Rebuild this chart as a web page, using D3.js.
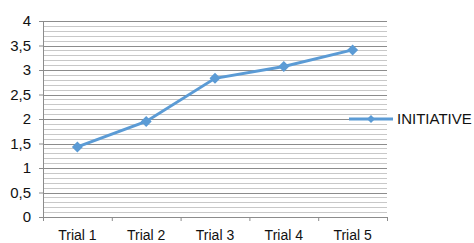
<!DOCTYPE html>
<html lang="en">
<head>
<meta charset="utf-8">
<script src="https://d3js.org/d3.v7.min.js"></script>
<style>
  body { margin: 0; background: #fff; }
  text { font-family: "Liberation Sans", Arial, sans-serif; fill: #111; }
</style>
</head>
<body>
<div id="container"></div>
<script>
var categories = ["Trial 1", "Trial 2", "Trial 3", "Trial 4", "Trial 5"];
var values = [1.43, 1.95, 2.83, 3.07, 3.41];
var seriesName = "INITIATIVE";
var majorTicks = [0, 0.5, 1, 1.5, 2, 2.5, 3, 3.5, 4];
var minorTicks = d3.range(0, 41).map(function(i) { return i / 10; });

var W = 474, H = 243;
var margin = {top: 21, left: 43, right: 87, bottom: 26};
var width = W - margin.left - margin.right,
    height = H - margin.top - margin.bottom;

var svg = d3.select("#container").append("svg")
    .attr("width", W).attr("height", H);
var g = svg.append("g")
    .attr("transform", "translate(" + margin.left + "," + margin.top + ")");

var x = d3.scaleBand().domain(categories).range([0, width]);
var y = d3.scaleLinear().domain([0, 4]).range([height, 0]);

// square diamond marker
function diamondPath(r) {
  return "M0," + (-r) + "L" + r + ",0L0," + r + "L" + (-r) + ",0Z";
}

// minor grid
g.selectAll(".minor").data(minorTicks.filter(function(d) { return Math.round(d * 10) % 5 != 0; }))
  .enter().append("line")
  .attr("x1", 0).attr("x2", width)
  .attr("y1", function(d) { return Math.round(y(d)) + 0.5; })
  .attr("y2", function(d) { return Math.round(y(d)) + 0.5; })
  .attr("stroke", "#c8c8c8").attr("stroke-width", 1);

// major grid
g.selectAll(".major").data(majorTicks.slice(1))
  .enter().append("line")
  .attr("x1", 0).attr("x2", width)
  .attr("y1", function(d) { return Math.round(y(d)) + 0.5; })
  .attr("y2", function(d) { return Math.round(y(d)) + 0.5; })
  .attr("stroke", "#8c8c8c").attr("stroke-width", 1);

// y axis
var yAxis = g.append("g")
  .call(d3.axisLeft(y).tickValues(majorTicks).tickSize(4).tickPadding(8)
    .tickFormat(function(d) { return String(d).replace(".", ","); }));
yAxis.select(".domain").attr("stroke", "#8c8c8c");
yAxis.selectAll(".tick line").attr("stroke", "#8c8c8c");
yAxis.selectAll("text").style("font-size", "15px").style("fill", "#111");

// x axis
var xLin = d3.scaleLinear().domain([0, categories.length]).range([0, width]);
var xAxis = g.append("g")
  .attr("transform", "translate(0," + height + ")")
  .call(d3.axisBottom(xLin).tickValues(d3.range(0, categories.length + 1)).tickSize(4).tickFormat(""));
xAxis.select(".domain").attr("stroke", "#8c8c8c");
xAxis.selectAll(".tick line").attr("stroke", "#8c8c8c");
g.selectAll(".xlab").data(categories).enter().append("text")
  .attr("x", function(d) { return x(d) + x.bandwidth() / 2; })
  .attr("y", height + 23)
  .attr("text-anchor", "middle")
  .style("font-size", "14px")
  .text(function(d) { return d; });

// series line
var color = "#5b9bd5";
var line = d3.line()
  .x(function(d, i) { return x(categories[i]) + x.bandwidth() / 2; })
  .y(function(d) { return y(d); });
g.append("path").datum(values)
  .attr("d", line)
  .attr("fill", "none")
  .attr("stroke", color)
  .attr("stroke-width", 3);

g.selectAll(".pt").data(values).enter().append("path")
  .attr("d", diamondPath(5.5))
  .attr("transform", function(d, i) {
    return "translate(" + (x(categories[i]) + x.bandwidth() / 2) + "," + y(d) + ")";
  })
  .attr("fill", color);

// legend
var lg = svg.append("g").attr("transform", "translate(349,119)");
lg.append("line").attr("x1", 0).attr("x2", 44).attr("y1", 0).attr("y2", 0)
  .attr("stroke", color).attr("stroke-width", 3);
lg.append("path").attr("d", diamondPath(4))
  .attr("transform", "translate(22,0)").attr("fill", color);
lg.append("text").attr("x", 48).attr("y", 5)
  .style("font-size", "15px").text(seriesName);
</script>
</body>
</html>
